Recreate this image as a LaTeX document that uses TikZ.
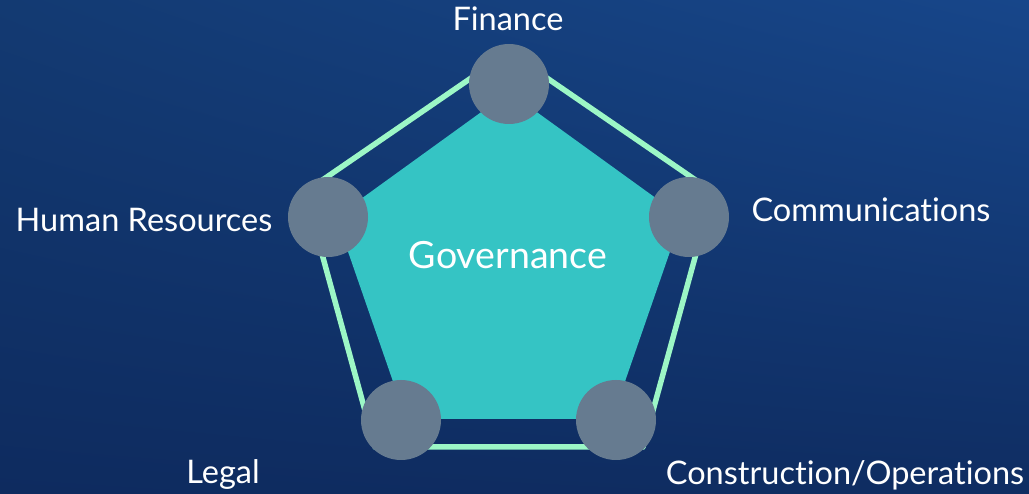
\documentclass[tikz,border=0pt]{standalone}
\usepackage{fontspec}
\usetikzlibrary{shadings}
\setmainfont{Lato}[Ligatures=NoCommon]
\definecolor{bgul}{HTML}{133A72}
\definecolor{bgur}{HTML}{17468A}
\definecolor{bgll}{HTML}{0E2B5F}
\definecolor{bglr}{HTML}{0F2D62}
\definecolor{tealf}{HTML}{35C4C4}
\definecolor{mint}{HTML}{9CF7C6}
\definecolor{dotc}{HTML}{667B90}
\begin{document}
\begin{tikzpicture}[x=1pt,y=-1pt,
  vert/.style={circle,fill=dotc,minimum size=80pt,inner sep=0pt},
  lab/.style={text=white,font=\fontsize{32.5}{38}\selectfont,inner sep=0pt},
  ring/.style={draw=mint,line width=5.5pt,line join=round}]
\useasboundingbox (0,0) rectangle (1029,494);
\shade[upper left=bgul,upper right=bgur,lower left=bgll,lower right=bglr] (0,0) rectangle (1029,494);
% outer ring
\coordinate (o1) at (509,52);
\coordinate (o2) at (713,192);
\coordinate (o3) at (643,447);
\coordinate (o4) at (375,447);
\coordinate (o5) at (305,192);
\draw[ring] (o1) -- (o2) -- (o3) -- (o4) -- (o5) -- cycle;
% inner pentagon
\coordinate (p1) at (509,92);
\coordinate (p2) at (682,217);
\coordinate (p3) at (612,419);
\coordinate (p4) at (406,419);
\coordinate (p5) at (336,217);
\fill[tealf] (p1) -- (p2) -- (p3) -- (p4) -- (p5) -- cycle;
% circles
\node[vert] (fin) at (509,84) {};
\node[vert] (com) at (689,217) {};
\node[vert] (hr) at (328,217) {};
\node[vert] (leg) at (401,420) {};
\node[vert] (con) at (616,420) {};
% labels
\node[lab,font=\fontsize{37.5}{42}\selectfont] (gov) at (508,255) {Governance};
\node[lab] (lfin) at (508,19) {Finance};
\node[lab] (lcom) at (871,210) {Communications};
\node[lab] (lhr) at (144,220) {Human Resources};
\node[lab] (lleg) at (223,474) {Legal};
\node[lab] (lcon) at (845,475) {Construction/Operations};
\end{tikzpicture}
\end{document}
